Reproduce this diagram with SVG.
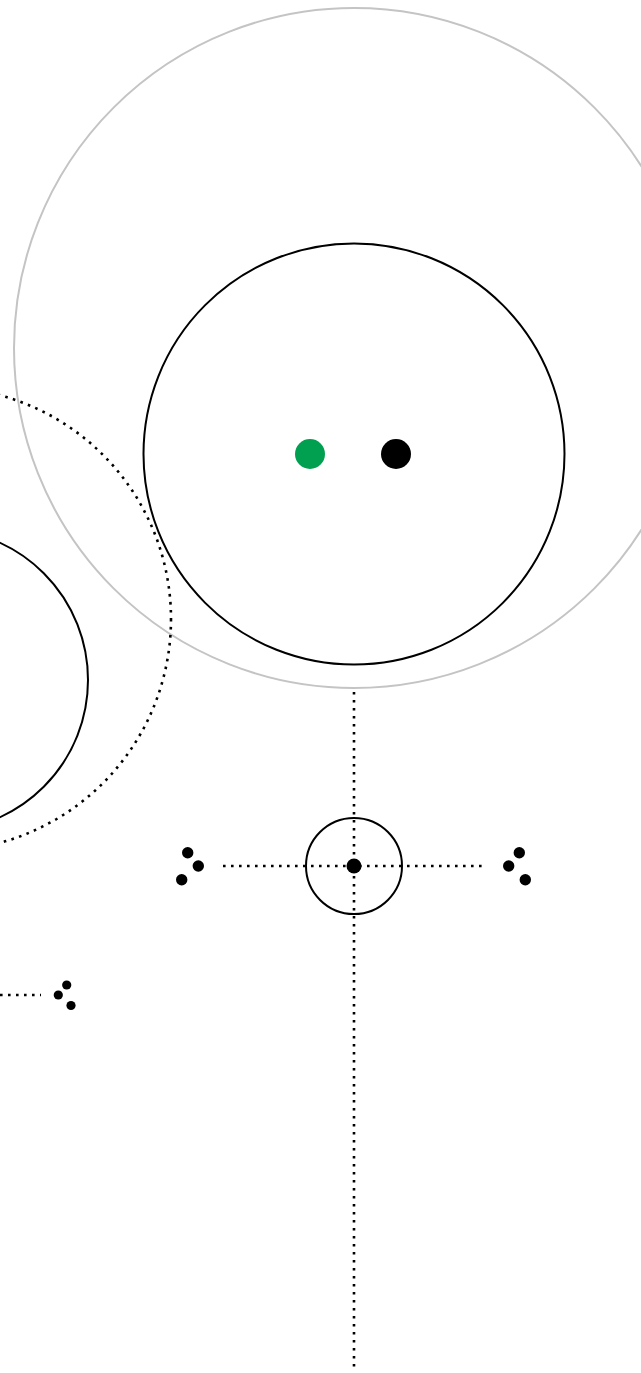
<svg xmlns="http://www.w3.org/2000/svg" width="641" height="1373" viewBox="0 0 641 1373">
<style>
.ring{fill:none;stroke:#000;stroke-width:2}
.halo{fill:none;stroke:#c4c4c4;stroke-width:2}
.dot{fill:none;stroke:#000;stroke-width:2.6;stroke-dasharray:2.6 5.4}
.pt{fill:#000}
</style>
<rect width="641" height="1373" fill="#fff"/>
<g id="halo"><circle class="halo" cx="354" cy="348" r="340"/></g>
<g id="big"><circle class="ring" cx="354" cy="454" r="210.5"/></g>
<g id="green"><circle cx="310" cy="454" r="15" fill="#00a050"/></g>
<g id="black"><circle class="pt" cx="396" cy="454" r="15"/></g>
<g id="leftcircle"><circle class="ring" cx="-63" cy="680" r="151"/></g>
<g id="leftdotted"><circle class="dot" cx="-61" cy="619" r="232"/></g>
<g id="connectors">
<line class="dot" x1="354" y1="692" x2="354" y2="1370"/>
<line class="dot" x1="223" y1="866" x2="487" y2="866"/>
<line class="dot" x1="0" y1="995" x2="41" y2="995"/>
</g>
<g id="hub"><circle class="ring" cx="354" cy="866" r="48"/><circle class="pt" cx="354" cy="866" r="7.5"/></g>
<g id="triadleft"><circle class="pt" cx="187.7" cy="852.7" r="5.7"/><circle class="pt" cx="198.3" cy="866" r="5.7"/><circle class="pt" cx="181.7" cy="879.7" r="5.7"/></g>
<g id="triadright"><circle class="pt" cx="519.3" cy="852.7" r="5.7"/><circle class="pt" cx="508.7" cy="866" r="5.7"/><circle class="pt" cx="525.3" cy="879.7" r="5.7"/></g>
<g id="triadlow"><circle class="pt" cx="66.7" cy="985" r="4.6"/><circle class="pt" cx="58.3" cy="995" r="4.6"/><circle class="pt" cx="71" cy="1005.5" r="4.6"/></g>
</svg>
